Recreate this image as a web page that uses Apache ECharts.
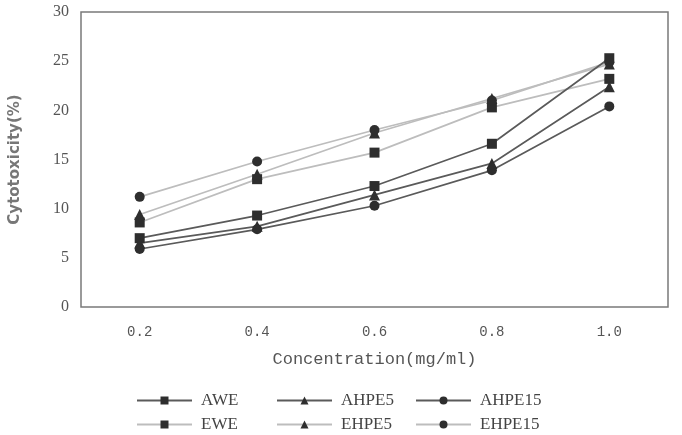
<!DOCTYPE html>
<html><head><meta charset="utf-8">
<script src="https://cdn.jsdelivr.net/npm/echarts@6/dist/echarts.min.js"></script>
<style>html,body{margin:0;padding:0;background:#fff}#c{width:682px;height:435px}</style>
</head><body><div id="c"></div>
<script>
const categories = ['0.2', '0.4', '0.6', '0.8', '1.0'];
const AWE    = [7.0, 9.3, 12.3, 16.6, 25.3];
const AHPE5  = [6.5, 8.2, 11.4, 14.6, 22.4];
const AHPE15 = [5.9, 7.9, 10.3, 13.9, 20.4];
const EWE    = [8.6, 13.0, 15.7, 20.3, 23.2];
const EHPE5  = [9.4, 13.5, 17.7, 21.2, 24.7];
const EHPE15 = [11.2, 14.8, 18.0, 21.0, 24.9];
const yTicks = [0, 5, 10, 15, 20, 25, 30];

const dark = '#5a5a5a', light = '#bdbdbd', mark = '#2e2e2e';
function s(name, data, symbol, lc, size) {
  return {
    name, type: 'line', data, symbol, symbolSize: size,
    lineStyle: { color: lc, width: 1.7 },
    itemStyle: { color: mark },
    emphasis: { disabled: true }, z: lc === dark ? 3 : 2
  };
}
function lg(left, data) {
  return {
    orient: 'vertical', left, top: 392, padding: 0,
    itemWidth: 55, itemHeight: 10, itemGap: 7, data,
    textStyle: { fontFamily: 'Liberation Serif', fontSize: 17, color: '#444', padding: [0, 0, 0, 4] },
    inactiveColor: '#444'
  };
}
const chart = echarts.init(document.getElementById('c'), null, { renderer: 'canvas' });
chart.setOption({
  animation: false,
  grid: { left: 80, right: 14, top: 12, bottom: 128, show: true, borderColor: '#7a7a7a', borderWidth: 1.5 },
  legend: [
    lg(136, ['AWE', 'EWE']),
    lg(276, ['AHPE5', 'EHPE5']),
    lg(415, ['AHPE15', 'EHPE15'])
  ],
  xAxis: {
    type: 'category', data: categories, boundaryGap: true,
    axisLine: { show: false }, axisTick: { show: false },
    axisLabel: { fontFamily: 'Liberation Mono', fontSize: 14, color: '#555', margin: 18 },
    name: 'Concentration(mg/ml)', nameLocation: 'middle', nameGap: 44,
    nameTextStyle: { fontFamily: 'Liberation Mono', fontSize: 17, color: '#555' }
  },
  yAxis: {
    type: 'value', min: 0, max: 30, interval: 5,
    axisLine: { show: false }, axisTick: { show: false }, splitLine: { show: false },
    axisLabel: { fontFamily: 'Liberation Serif', fontSize: 16, color: '#555', margin: 12,
      formatter: v => yTicks.includes(v) ? String(v) : '' },
    name: 'Cytotoxicity(%)', nameLocation: 'middle', nameGap: 58, nameRotate: 90,
    nameTextStyle: { fontFamily: 'DejaVu Sans', fontSize: 15, fontWeight: 'bold', color: '#777' }
  },
  series: [
    s('AWE', AWE, 'rect', dark, 10),
    s('AHPE5', AHPE5, 'triangle', dark, 11),
    s('AHPE15', AHPE15, 'circle', dark, 10),
    s('EWE', EWE, 'rect', light, 10),
    s('EHPE5', EHPE5, 'triangle', light, 11),
    s('EHPE15', EHPE15, 'circle', light, 10)
  ]
});
</script></body></html>
